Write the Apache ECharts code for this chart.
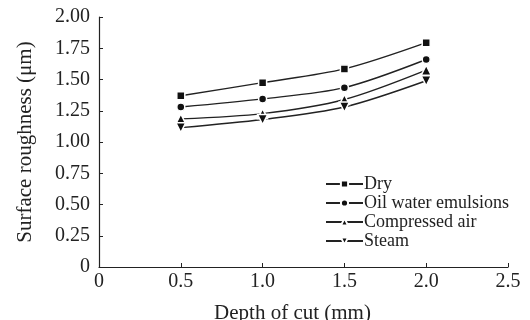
<!DOCTYPE html>
<html>
<head>
<meta charset="utf-8">
<script src="https://cdn.jsdelivr.net/npm/echarts@6/dist/echarts.min.js"></script>
<style>
  html, body { margin: 0; padding: 0; background: #fff; }
  #chart { width: 530px; height: 320px; }
</style>
</head>
<body>
<div id="chart"></div>
<script>
// depth of cut (mm)
var depth = [0.5, 1.0, 1.5, 2.0]
// surface roughness (um) per cooling condition
var dry = [1.37, 1.475, 1.585, 1.795]
var oilWater = [1.28, 1.345, 1.435, 1.66]
var compressedAir = [1.185, 1.227, 1.34, 1.575]
var steam = [1.115, 1.18, 1.28, 1.49]

var seriesNames = ['Dry', 'Oil water emulsions', 'Compressed air', 'Steam']
var seriesData = [dry, oilWater, compressedAir, steam]
var symbols = ['rect', 'circle', 'triangle', 'triangle']
var rotations = [0, 0, 0, 180]
var sizes = [8, 8, 10, 10]

var font = 'Liberation Serif, Times New Roman, serif'

function pairs(ys) {
  return depth.map(function(x, i) { return [x, ys[i]] })
}

var chart = echarts.init(document.getElementById('chart'))
chart.setOption({
  animation: false,
  grid: { left: 99, right: 22, top: 17, bottom: 53, outerBoundsMode: 'none', containLabel: false },
  legend: {
    orient: 'vertical',
    left: 325,
    top: 175,
    padding: 0,
    itemWidth: 37,
    itemHeight: 9,
    itemGap: 1,
    textStyle: { fontFamily: font, fontSize: 18, color: '#222', padding: [0, 0, 0, -4] },
    data: seriesNames
  },
  xAxis: {
    type: 'value',
    min: 0,
    max: 2.5,
    interval: 0.5,
    name: 'Depth of cut (mm)',
    nameLocation: 'middle',
    nameGap: 36,
    nameTextStyle: { fontFamily: font, fontSize: 21, color: '#222', padding: [0, 22, 0, 0] },
    splitLine: { show: false },
    axisLine: { lineStyle: { color: '#222', width: 1.2 } },
    axisTick: { inside: true, length: 4, lineStyle: { color: '#222' } },
    axisLabel: {
      fontFamily: font, fontSize: 20, color: '#222', margin: 5,
      formatter: function(v) { return v === 0 ? '0' : v.toFixed(1) }
    }
  },
  yAxis: {
    type: 'value',
    min: 0,
    max: 2,
    interval: 0.25,
    name: 'Surface roughness (μm)',
    nameLocation: 'middle',
    nameGap: 63,
    nameTextStyle: { fontFamily: font, fontSize: 21, color: '#222' },
    splitLine: { show: false },
    axisLine: { show: true, lineStyle: { color: '#222', width: 1.2 } },
    axisTick: { show: true, inside: true, length: 4, lineStyle: { color: '#222' } },
    axisLabel: {
      fontFamily: font, fontSize: 20, color: '#222', margin: 9,
      formatter: function(v) { return v === 0 ? '0' : v.toFixed(2) }
    }
  },
  series: seriesNames.map(function(name, i) {
    return {
      name: name,
      type: 'line',
      data: pairs(seriesData[i]),
      smooth: 0.3,
      symbol: symbols[i],
      symbolRotate: rotations[i],
      symbolSize: sizes[i],
      showSymbol: true,
      lineStyle: { color: '#222', width: 1.4 },
      itemStyle: { color: '#111', borderColor: '#fff', borderWidth: 1.5 }
    }
  })
})
</script>
</body>
</html>
